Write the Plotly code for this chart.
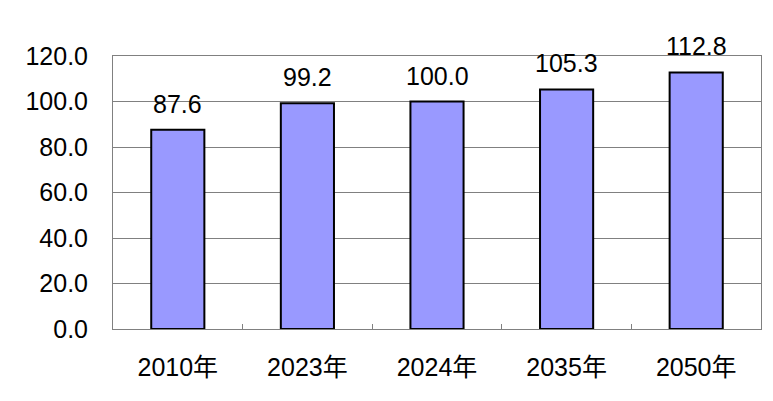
import plotly.graph_objects as go

# data
years = ["2010年", "2023年", "2024年", "2035年", "2050年"]
values = [87.6, 99.2, 100.0, 105.3, 112.8]
y_ticks = [0, 20, 40, 60, 80, 100, 120]

FONT = "Liberation Sans, Arial, Noto Sans CJK JP, sans-serif"

fig = go.Figure()
fig.add_trace(go.Bar(x=years, y=values, width=0.41,
                     marker=dict(color="#9999FF", line=dict(color="#000000", width=2)),
                     showlegend=False))

#-- value labels above the bars
for yr, v in zip(years, values):
    fig.add_annotation(x=yr, y=v, text=f"{v:.1f}", showarrow=False,
                       yanchor="bottom", yshift=10,
                       font=dict(size=25, color="#000000", family=FONT))

# page has 8px body margin, so margins are shifted
fig.update_layout(
    width=773, height=401,
    margin=dict(l=105, r=20, t=48, b=80),
    plot_bgcolor="white", paper_bgcolor="white",
    font=dict(family=FONT, color="#000000"),
)
fig.update_xaxes(showline=True, linecolor="#808080", linewidth=1, mirror=True,
                 ticks="inside", tickson="boundaries", ticklen=5, tickcolor="#808080",
                 tickfont=dict(size=25), ticklabelstandoff=16, showgrid=False)
fig.update_yaxes(range=[0, 120], tickvals=y_ticks,
                 ticktext=[f"{t:.1f}" for t in y_ticks],
                 showline=True, linecolor="#808080", linewidth=1, mirror=True,
                 showgrid=True, gridcolor="#808080", gridwidth=1,
                 ticks="", ticklabelstandoff=19, tickfont=dict(size=25),
                 zeroline=False)

fig.write_html("out.html")
